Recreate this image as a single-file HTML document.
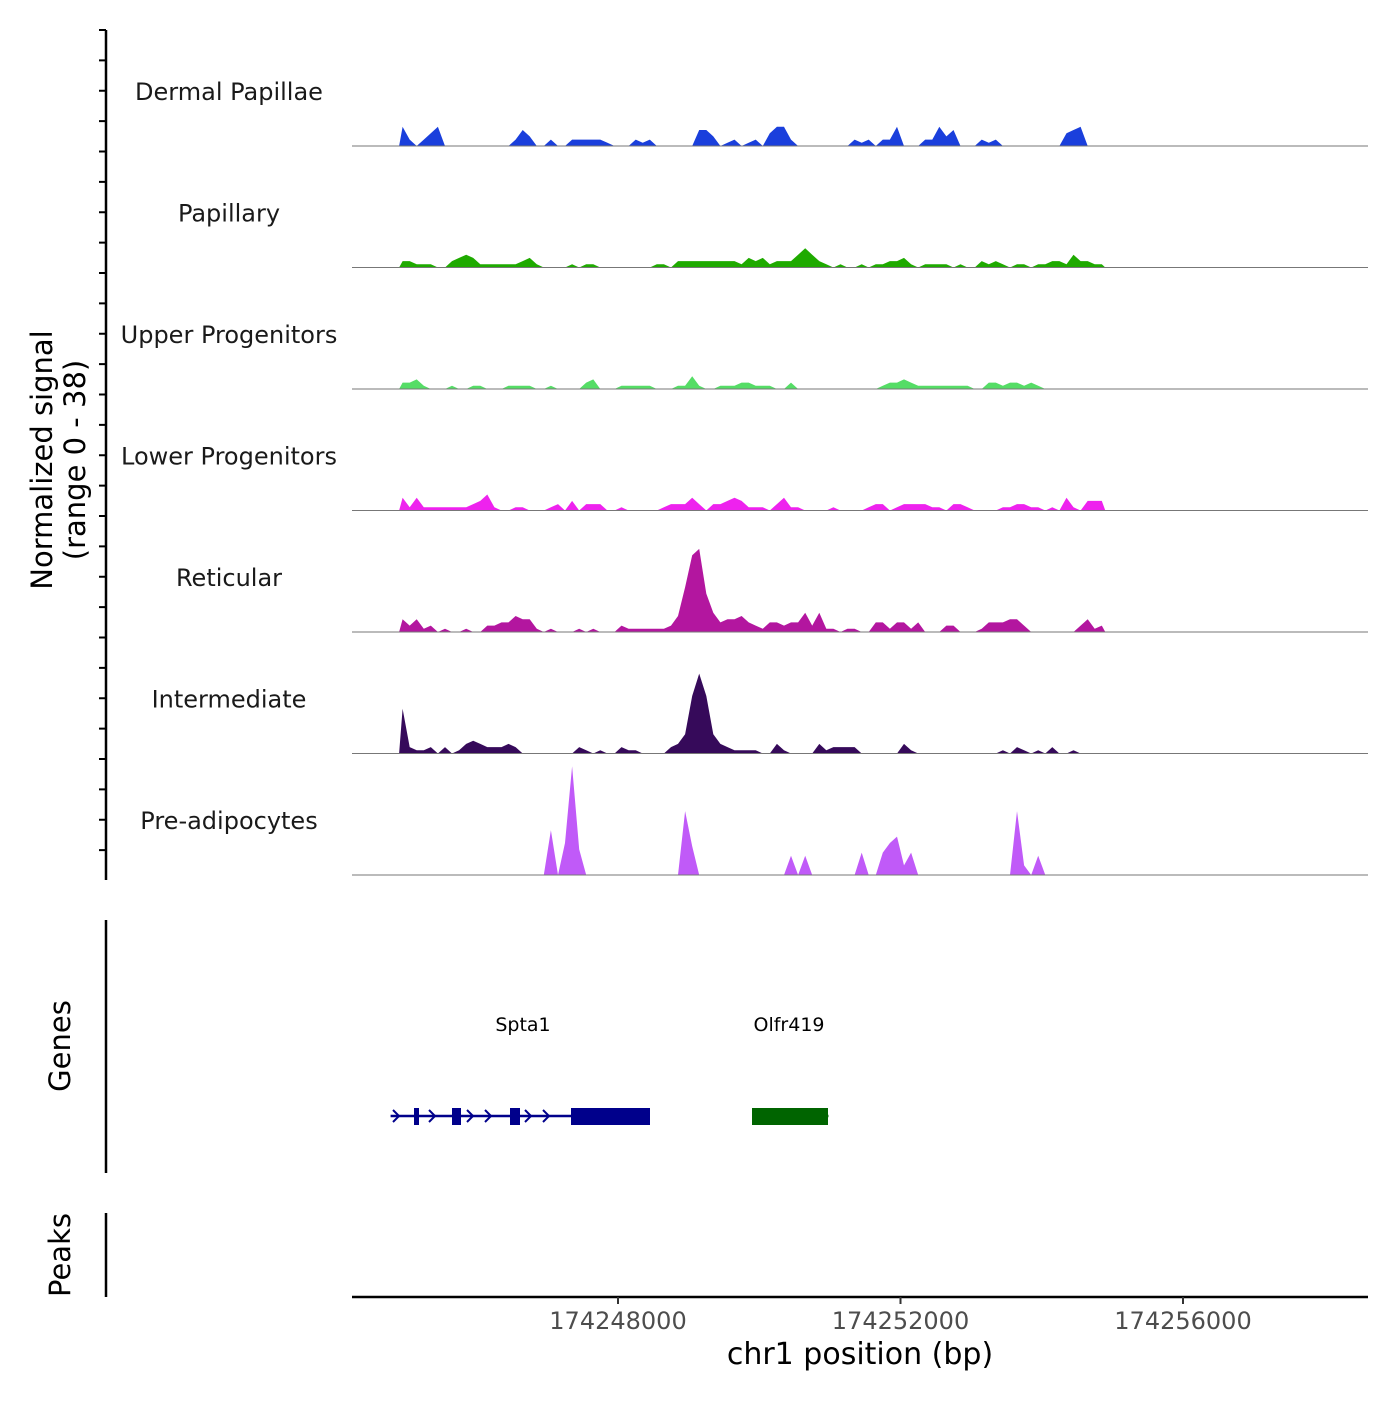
<!DOCTYPE html>
<html><head><meta charset="utf-8"><style>
body{margin:0;background:#fff}
svg text{font-family:"DejaVu Sans","Liberation Sans",sans-serif}
</style></head><body>
<svg id="c" width="1400" height="1400" xmlns="http://www.w3.org/2000/svg"></svg>
<script>
const trackNames=["Dermal Papillae","Papillary","Upper Progenitors","Lower Progenitors","Reticular","Intermediate","Pre-adipocytes"];
const trackColors=["#1a3fdc","#1faa00","#55dd66","#ee22ee","#b3169f","#360a5a","#c05af8"];
const binStart=174244900, binSize=100;
const dermal=[6,2,0,2,4,6,0,0,0,0,0,0,0,0,0,0,2,5,3,0,0,2,0,0,2,2,2,2,2,1,0,0,0,2,1,2,0,0,0,0,0,0,5,5,3,0,1,2,0,1,2,0,4,6,6,2,0,0,0,0,0,0,0,0,2,1,2,0,2,2,6,0,0,0,2,2,6,3,5,0,0,0,2,1,2,0,0,0,0,0,0,0,0,0,4,5,6,0,0,0];
const papillary=[2,2,1,1,1,0,0,2,3,4,3,1,1,1,1,1,1,2,3,1,0,0,0,0,1,0,1,1,0,0,0,0,0,0,0,0,1,1,0,2,2,2,2,2,2,2,2,2,1,3,2,3,1,2,2,2,4,6,4,2,1,0,1,0,0,1,0,1,1,2,2,3,1,0,1,1,1,1,0,1,0,0,2,1,2,1,0,1,1,0,1,1,2,2,1,4,2,2,1,1];
const upper=[2,2,3,1,0,0,0,1,0,0,1,1,0,0,0,1,1,1,1,0,0,1,0,0,0,0,2,3,0,0,0,1,1,1,1,1,0,0,0,1,1,4,1,0,0,1,1,1,2,2,1,1,1,0,0,2,0,0,0,0,0,0,0,0,0,0,0,0,1,2,2,3,2,1,1,1,1,1,1,1,1,0,0,2,2,1,2,2,1,2,1,0,0,0,0,0,0,0,0,0];
const lower=[4,1,4,1,1,1,1,1,1,1,2,3,5,1,0,0,1,1,0,0,0,1,2,0,3,0,2,2,2,0,0,1,0,0,0,0,0,1,2,2,2,4,2,0,2,2,3,4,3,1,1,1,0,2,4,1,1,0,0,0,0,1,0,0,0,0,1,2,2,0,1,2,2,2,2,1,1,0,2,2,1,0,0,0,0,1,1,2,2,1,1,0,1,0,4,1,0,3,3,3];
const reticular=[4,2,4,1,2,0,1,0,0,1,0,0,2,2,3,3,5,4,4,1,0,1,0,0,0,1,0,1,0,0,0,2,1,1,1,1,1,1,2,5,14,24,26,12,6,3,4,4,5,3,2,1,3,3,2,3,3,6,2,6,1,1,0,1,1,0,0,3,3,1,3,3,1,3,0,0,0,2,2,0,0,0,1,3,3,3,4,4,2,0,0,0,0,0,0,0,2,4,1,2];
const intermediate=[14,2,1,1,2,0,2,0,1,3,4,3,2,2,2,3,2,0,0,0,0,0,0,0,0,2,1,0,1,0,0,2,1,1,0,0,0,0,2,3,6,18,25,18,6,3,2,1,1,1,1,0,0,3,1,0,0,0,0,3,1,2,2,2,2,0,0,0,0,0,0,3,1,0,0,0,0,0,0,0,0,0,0,0,0,1,0,2,1,0,1,0,2,0,0,1,0,0,0,0];
const preadipo=[0,0,0,0,0,0,0,0,0,0,0,0,0,0,0,0,0,0,0,0,0,14,0,10,34,8,0,0,0,0,0,0,0,0,0,0,0,0,0,0,20,9,0,0,0,0,0,0,0,0,0,0,0,0,0,6,0,6,0,0,0,0,0,0,0,7,0,0,7,10,12,3,7,0,0,0,0,0,0,0,0,0,0,0,0,0,0,20,3,0,6,0,0,0,0,0,0,0,0,0];
const series=[dermal,papillary,upper,lower,reticular,intermediate,preadipo];
const xTicks=[174248000,174252000,174256000];
const xTickLabels=["174248000","174252000","174256000"];
const yMax=38;
const genes=["Spta1","Olfr419"];
const geneStart=[174244780,174249900];
const geneEnd=[174248450,174250980];
const geneColor=["#00008b","#006400"];

const NS="http://www.w3.org/2000/svg";
const svg=document.getElementById('c');
function mk(tag,attrs,parent){const e=document.createElementNS(NS,tag);for(const k in attrs)e.setAttribute(k,attrs[k]);(parent||svg).appendChild(e);return e;}
const X0=352,X1=1368;
function xs(bp){return 618+(bp-174248000)*0.070625;}
const base0=146, trackH=121.5;
function ys(v,t){return base0+t*trackH - v/yMax*trackH;}

let ax=mk('line',{x1:106,y1:30,x2:106,y2:880,stroke:'#000','stroke-width':2.5});


for(let y=30;y<=880;y+=trackH/4){let t=mk('line',{x1:99,y1:y,x2:106,y2:y,stroke:'#000','stroke-width':2});

}
let yt=mk('text',{x:0,y:0,transform:'translate(52,460) rotate(-90)','text-anchor':'middle','font-size':29});


yt.textContent='Normalized signal';
let yt2=mk('text',{x:0,y:0,transform:'translate(85,460) rotate(-90)','text-anchor':'middle','font-size':29});


yt2.textContent='(range 0 - 38)';

series.forEach((arr,t)=>{
  const b=base0+t*trackH;
  let pts=[[xs(binStart),b]];
  arr.forEach((v,i)=>{const x=xs(binStart+binSize*(i+0.5));pts.push([x,ys(v,t)]);});
  pts.push([xs(binStart+binSize*arr.length),b]);
  let p=mk('polygon',{points:pts.map(p=>p[0].toFixed(1)+','+p[1].toFixed(1)).join(' '),fill:trackColors[t]});
  
  
  let l=mk('line',{x1:X0,y1:b,x2:X1,y2:b,stroke:'#777','stroke-width':1});
  
  
  let tx=mk('text',{x:229,y:b-46,'text-anchor':'middle','font-size':24,fill:'#1a1a1a'});
  
  
  tx.textContent=trackNames[t];
});

let ga=mk('line',{x1:106,y1:920,x2:106,y2:1173,stroke:'#000','stroke-width':2.5});


let gt=mk('text',{x:0,y:0,transform:'translate(70,1046) rotate(-90)','text-anchor':'middle','font-size':29});


gt.textContent='Genes';
const labelX=[523,789];
genes.forEach((g,i)=>{
  const x1=xs(geneStart[i]),x2=xs(geneEnd[i]);
  let ln=mk('line',{x1:x1,y1:1116,x2:x2,y2:1116,stroke:geneColor[i],'stroke-width':2.5});
  
  
  let lb=mk('text',{x:labelX[i],y:1031,'text-anchor':'middle','font-size':19});
  
  
  lb.textContent=g;
});
[[414,419],[452,461],[510,520],[571,650]].forEach(e=>{let r=mk('rect',{x:e[0],y:1108,width:e[1]-e[0],height:17,fill:'#00008b'});

});
[396,432,470,488,528,546].forEach(x=>{let a=mk('path',{d:`M${x-3},1110 L${x+3},1116 L${x-3},1122`,fill:'none',stroke:'#00008b','stroke-width':2});

});
let ob=mk('rect',{x:752,y:1108,width:76,height:17,fill:'#006400'});



let pa=mk('line',{x1:106,y1:1213,x2:106,y2:1297,stroke:'#000','stroke-width':2.5});


let pt=mk('text',{x:0,y:0,transform:'translate(70,1255) rotate(-90)','text-anchor':'middle','font-size':29});


pt.textContent='Peaks';

let xa=mk('line',{x1:X0,y1:1297,x2:X1,y2:1297,stroke:'#000','stroke-width':2.5});


xTicks.forEach((v,i)=>{
  const x=xs(v);
  let t=mk('line',{x1:x,y1:1297,x2:x,y2:1304,stroke:'#333','stroke-width':2});
  
  
  let l=mk('text',{x:x,y:1329,'text-anchor':'middle','font-size':24,fill:'#4d4d4d'});
  
  
  l.textContent=xTickLabels[i];
});
let xt=mk('text',{x:860,y:1364,'text-anchor':'middle','font-size':30});


xt.textContent='chr1 position (bp)';
</script>
</body></html>
